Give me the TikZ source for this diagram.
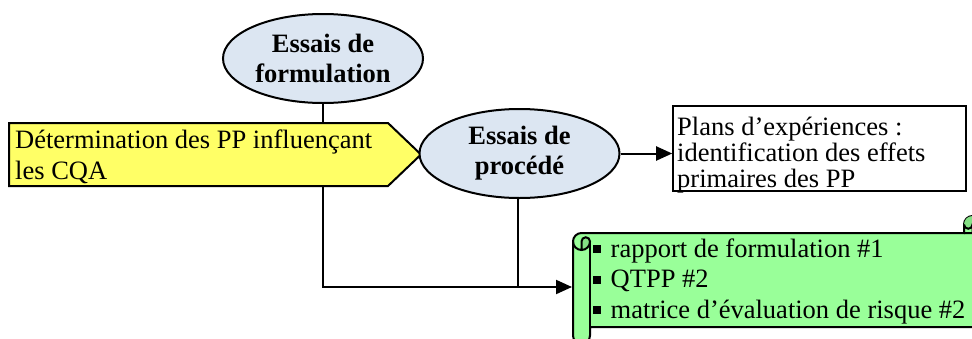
\documentclass[tikz,border=0pt]{standalone}
\usepackage{fontspec}
\setmainfont{Liberation Serif}
\usetikzlibrary{arrows.meta,shapes.geometric}
\definecolor{ovalfill}{HTML}{DCE6F2}
\definecolor{signfill}{HTML}{FFFF66}
\definecolor{scrollfill}{HTML}{99FF99}
\definecolor{curlfill}{HTML}{85E085}
\newcommand\sqbullet{\rule[0.15em]{0.3em}{0.3em}\hspace{0.36em}}
\begin{document}
\begin{tikzpicture}[x=1pt,y=-1pt,
  every node/.style={font=\fontsize{26.5}{30}\selectfont},
  oval/.style={ellipse,draw,line width=2pt,fill=ovalfill,minimum width=200pt,
    minimum height=89pt,inner sep=0pt,align=center,
    font=\fontsize{26.5}{30}\selectfont\bfseries},
  link/.style={line width=2pt},
  tip/.style={-{Triangle[length=16pt,width=14pt]}},
  txt/.style={inner sep=0pt,anchor=base west,align=left},
  edge/.style={line width=2pt}
]
\useasboundingbox (0,0) rectangle (972,338);

% entry point of the merged connector on the scroll
\coordinate (scrollin) at (572,287);

% connectors running behind the shapes
\draw[link,tip] (323,103) |- (scrollin);
\draw[link] (518,198) -- (518,287);

% yellow signpost (the base anchor sits on the last line)
\draw[edge,fill=signfill] (9,123) -- (388,123) -- (421,154.5) -- (388,186) -- (9,186) -- cycle;
\node[txt,font=\fontsize{26.5}{31}\selectfont] (ppsign) at (15,179)
  {Détermination des PP influençant\\les CQA};

% ovals
\node[oval] (e1) at (323,58.5) {Essais de\\formulation};
\node[oval] (e2) at (519.5,153.5) {Essais de\\procédé};

% design-of-experiments box
\node[draw,line width=1.6pt,minimum width=293pt,minimum height=85pt,inner sep=0pt]
  (plans) at (819.5,148.5) {};
\node[txt,font=\fontsize{26.5}{26}\selectfont] (planstext) at (677,187)
  {Plans d’expériences :\\identification des effets\\primaires des PP};
\draw[link,tip] (e2.east) -- (e2.east -| plans.west);

% horizontal scroll with the deliverables
\path[fill=scrollfill,draw,edge]
  (573,241.5) arc[start angle=180,end angle=270,radius=8.5]
  -- (964,233) -- (964,224.5) arc[start angle=180,end angle=360,radius=8.5]
  -- (981,318.5) arc[start angle=0,end angle=90,radius=8.5]
  -- (590,327) -- (590,335.5) arc[start angle=0,end angle=180,radius=8.5]
  -- cycle;
\fill[curlfill] (972.5,233) arc[start angle=90,end angle=-180,radius=8.5]
  arc[start angle=180,end angle=0,radius=4.25] -- cycle;
\fill[curlfill] (581.5,250) arc[start angle=90,end angle=0,radius=8.5]
  arc[start angle=0,end angle=-180,radius=4.25] -- cycle;
\draw[edge] (964,233) -- (972.5,233) arc[start angle=90,end angle=0,radius=8.5];
\draw[edge] (972.5,233) -- (972.5,224.5) arc[start angle=0,end angle=180,radius=4.25];
\draw[edge] (581.5,250) -- (581.5,241.5) arc[start angle=180,end angle=360,radius=4.25]
  arc[start angle=0,end angle=180,radius=8.5];
\draw[edge] (590,241.5) -- (590,327);
\node[txt,font=\fontsize{26.5}{30.5}\selectfont] (scrolltext) at (593,318)
  {\sqbullet rapport de formulation \#1\\\sqbullet QTPP \#2\\\sqbullet matrice d’évaluation de risque \#2};
\end{tikzpicture}
\end{document}
